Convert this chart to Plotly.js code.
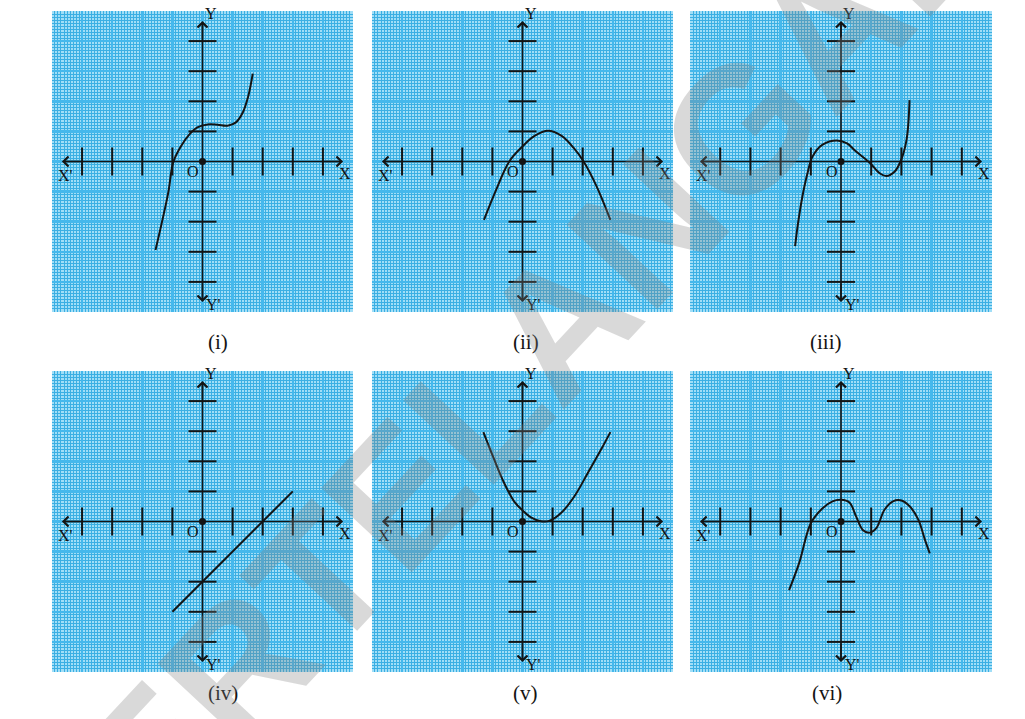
<!DOCTYPE html>
<html><head><meta charset="utf-8">
<script src="https://cdn.plot.ly/plotly-3.0.1.min.js"></script>
<style>html,body{margin:0;padding:0;background:#fff}#chart{width:1025px;height:719px}</style>
</head><body><div id="chart"></div>
<script>
// ---- data ----
const panelLabels = ['(i)', '(ii)', '(iii)', '(iv)', '(v)', '(vi)'];
const tickValues = [-4, -3, -2, -1, 1, 2, 3, 4];
const axisLabels = ['X', "X'", 'Y', "Y'", 'O'];
const watermarkText = 'SCERTELANGANA';

const curve1X = [-1.56, -1.33, -1.13, -0.97, -0.72, -0.44, -0.17, 0.17, 0.5, 0.83, 1.11, 1.33, 1.52, 1.67];
const curve1Y = [-2.94, -1.94, -1.0, -0.02, 0.5, 0.89, 1.13, 1.23, 1.22, 1.19, 1.3, 1.61, 2.17, 2.92];

const curve2X = [-1.28, -0.9, -0.44, 0, 0.4, 0.85, 1.3, 1.7, 2.03, 2.45, 2.92];
const curve2Y = [-1.94, -1.0, 0, 0.5, 0.85, 1.02, 0.85, 0.45, 0, -0.8, -1.94];

const curve3X = [-1.52, -1.44, -1.28, -1.11, -0.94, -0.61, -0.14, 0.2, 0.5, 0.95, 1.28, 1.5, 1.78, 1.97, 2.17, 2.27];
const curve3Y = [-2.81, -2.17, -1.17, -0.39, 0.17, 0.56, 0.7, 0.6, 0.33, -0.04, -0.39, -0.48, -0.33, 0, 0.72, 2.04];

const curve4X = [-1, 3];
const curve4Y = [-3, 1];

const curve5X = [-1.3, -0.94, -0.61, -0.28, 0, 0.28, 0.61, 0.89, 1.28, 1.72, 2.17, 2.61, 2.92];
const curve5Y = [2.97, 2.06, 1.28, 0.67, 0.37, 0.14, 0.01, 0.02, 0.28, 0.83, 1.61, 2.39, 2.97];

const curve6X = [-1.72, -1.39, -1.0, -0.61, -0.28, 0, 0.28, 0.5, 0.72, 0.94, 1.17, 1.44, 1.72, 2.0, 2.28, 2.56, 2.78, 2.94];
const curve6Y = [-2.28, -1.39, -0.06, 0.44, 0.67, 0.72, 0.63, 0.17, -0.28, -0.37, -0.22, 0.39, 0.67, 0.7, 0.5, 0.06, -0.61, -1.06];

// ---- build ----
const curvesX = [curve1X, curve2X, curve3X, curve4X, curve5X, curve6X];
const curvesY = [curve1Y, curve2Y, curve3Y, curve4Y, curve5Y, curve6Y];

const colDomains = [[0.0507, 0.3444], [0.3629, 0.6566], [0.6732, 0.9678]];
const rowDomains = [[0.5661, 0.9847], [0.0654, 0.4840]];
const labelY = [0.5243, 0.0167];

const ink = '#141414';
function axisCfg(domain, anchor) {
  return {
    domain: domain, anchor: anchor, range: [-5, 5],
    showgrid: true, dtick: 1, tick0: 0, gridcolor: '#45b8ec', gridwidth: 2.5,
    minor: {dtick: 0.1, tick0: 0, showgrid: true, gridcolor: '#3bafe3', gridwidth: 1},
    zeroline: false, showticklabels: false, ticks: '', showline: false, fixedrange: true
  };
}

const traces = [];
const annotations = [];
const layout = {
  width: 1025, height: 719,
  margin: {l: 0, r: 0, t: 0, b: 0},
  paper_bgcolor: '#ffffff', plot_bgcolor: '#a0def7',
  showlegend: false,
  font: {family: 'Liberation Serif', color: ink}
};

for (let i = 0; i < 6; i++) {
  const s = i === 0 ? '' : String(i + 1);
  const xa = 'x' + s, ya = 'y' + s;
  const col = i % 3, row = Math.floor(i / 3);
  layout['xaxis' + s] = axisCfg(colDomains[col], ya);
  layout['yaxis' + s] = axisCfg(rowDomains[row], xa);

  traces.push({x: [-4.6, 4.6], y: [0, 0], xaxis: xa, yaxis: ya, mode: 'lines',
    line: {color: ink, width: 1.6}, hoverinfo: 'skip'});
  traces.push({x: [0, 0], y: [-4.6, 4.6], xaxis: xa, yaxis: ya, mode: 'lines',
    line: {color: ink, width: 1.6}, hoverinfo: 'skip'});
  traces.push({x: tickValues, y: tickValues.map(() => 0), xaxis: xa, yaxis: ya, mode: 'markers',
    marker: {symbol: 'line-ns-open', size: 20, color: ink, line: {width: 2, color: ink}}, hoverinfo: 'skip'});
  traces.push({x: tickValues.map(() => 0), y: tickValues, xaxis: xa, yaxis: ya, mode: 'markers',
    marker: {symbol: 'line-ew-open', size: 20, color: ink, line: {width: 2, color: ink}}, hoverinfo: 'skip'});
  traces.push({x: curvesX[i], y: curvesY[i], xaxis: xa, yaxis: ya, mode: 'lines',
    line: {shape: 'spline', smoothing: 1, color: ink, width: 2}, hoverinfo: 'skip'});
  traces.push({x: [0], y: [0], xaxis: xa, yaxis: ya, mode: 'markers',
    marker: {size: 7, color: ink}, hoverinfo: 'skip'});

  const arrows = [[-4.67, 0, -4.0, 0], [4.67, 0, 4.0, 0], [0, 4.67, 0, 4.0], [0, -4.67, 0, -4.0]];
  arrows.forEach(a => annotations.push({
    xref: xa, yref: ya, axref: xa, ayref: ya, x: a[0], y: a[1], ax: a[2], ay: a[3],
    text: '', showarrow: true, arrowhead: 4, arrowsize: 1.3, arrowwidth: 1.5, arrowcolor: ink
  }));

  const labelPos = [[4.72, -0.39], [-4.55, -0.48], [0.28, 4.92], [0.37, -4.74], [-0.31, -0.33]];
  axisLabels.forEach((t, k) => annotations.push({
    xref: xa, yref: ya, x: labelPos[k][0], y: labelPos[k][1], text: t, showarrow: false,
    font: {family: 'Liberation Serif', size: 16, color: ink}
  }));

  annotations.push({
    xref: 'paper', yref: 'paper', x: (colDomains[col][0] + colDomains[col][1]) / 2 + 0.003, y: labelY[row],
    text: panelLabels[i], showarrow: false, font: {family: 'Liberation Serif', size: 21, color: ink}
  });
}

annotations.push({
  xref: 'paper', yref: 'paper', x: 0.4859, y: 0.459, text: watermarkText, showarrow: false,
  textangle: -47, font: {family: 'Liberation Sans', size: 180, weight: 'bold', color: 'rgba(128,128,128,0.3)'}
});
layout.annotations = annotations;

Plotly.newPlot('chart', traces, layout, {staticPlot: true, displayModeBar: false});
</script>
</body></html>
